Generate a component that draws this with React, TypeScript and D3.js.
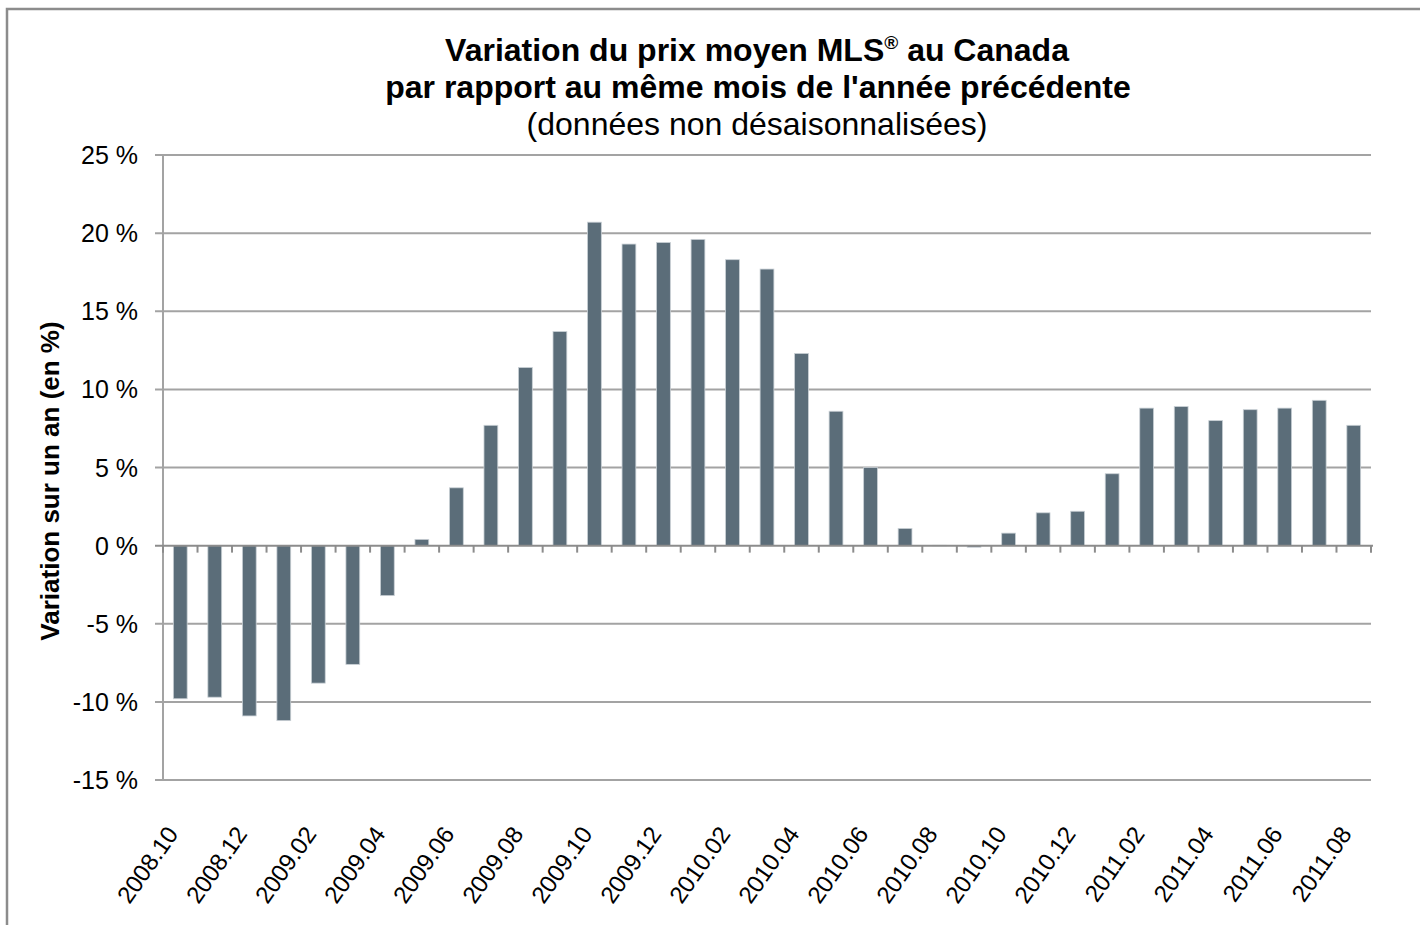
import React from 'react';
import * as d3 from 'd3';

const months: string[] = [
  '2008.10', '2008.11', '2008.12',
  '2009.01', '2009.02', '2009.03', '2009.04', '2009.05', '2009.06',
  '2009.07', '2009.08', '2009.09', '2009.10', '2009.11', '2009.12',
  '2010.01', '2010.02', '2010.03', '2010.04', '2010.05', '2010.06',
  '2010.07', '2010.08', '2010.09', '2010.10', '2010.11', '2010.12',
  '2011.01', '2011.02', '2011.03', '2011.04', '2011.05', '2011.06',
  '2011.07', '2011.08',
];

const variation: number[] = [
  -9.8, -9.7, -10.9,
  -11.2, -8.8, -7.6, -3.2, 0.4, 3.7,
  7.7, 11.4, 13.7, 20.7, 19.3, 19.4,
  19.6, 18.3, 17.7, 12.3, 8.6, 5.0,
  1.1, 0.02, -0.1, 0.8, 2.1, 2.2,
  4.6, 8.8, 8.9, 8.0, 8.7, 8.8,
  9.3, 7.7,
];

const yTicks: number[] = [-15, -10, -5, 0, 5, 10, 15, 20, 25];

const W = 1420;
const H = 925;
const left = 163;
const right = 1371;
const top = 155;
const bottom = 780;
const font = 'Liberation Sans, Arial, sans-serif';

const App: React.FC = () => {
  const x = d3.scaleBand<string>().domain(months).range([left, right]).paddingInner(0.6).paddingOuter(0.3);
  const y = d3.scaleLinear().domain([-15, 25]).range([bottom, top]);
  const bw = x.step();
  const boundaries = d3.range(months.length + 1).map(i => left + i * bw);
  const barW = x.bandwidth();
  const cx = (m: string) => (x(m) as number) + barW / 2;

  return (
    <svg width={W} height={H} style={{ position: 'absolute', left: 0, top: 0, background: '#fff' }}>
      <rect x={7} y={9} width={W + 20} height={H + 20} fill="#fff" stroke="#8c8c8c" strokeWidth={2.5} />

      <text x={757} y={61} textAnchor="middle" fontFamily={font} fontWeight="bold" fontSize={32} fill="#000">
        Variation du prix moyen MLS
        <tspan fontSize={19} dy={-12}>®</tspan>
        <tspan dy={12}> au Canada</tspan>
      </text>
      <text x={758} y={98} textAnchor="middle" fontFamily={font} fontWeight="bold" fontSize={32} fill="#000">
        par rapport au même mois de l'année précédente
      </text>
      <text x={757} y={135} textAnchor="middle" fontFamily={font} fontSize={32} fill="#000">
        (données non désaisonnalisées)
      </text>

      {/* gridlines */}
      {yTicks.filter(t => t !== 0).map(t => (
        <line key={t} x1={left - 8} x2={right} y1={y(t)} y2={y(t)} stroke="#a3a3a3" strokeWidth={2} />
      ))}
      {yTicks.map(t => (
        <text key={'l' + t} x={138} y={y(t) + 9} textAnchor="end" fontFamily={font} fontSize={25} fill="#000">
          {t} %
        </text>
      ))}
      <line x1={left} x2={left} y1={top} y2={bottom} stroke="#a3a3a3" strokeWidth={2} />

      {/* bars */}
      {months.map((m, i) => {
        const v = variation[i];
        const y1 = y(Math.max(0, v));
        const y2 = y(Math.min(0, v));
        return (
          <rect key={m} x={x(m)} y={y1} width={barW} height={Math.max(0.5, y2 - y1)}
            fill="#5b6d79" stroke="#c9d0d5" strokeWidth={0.8} />
        );
      })}

      {/* zero axis */}
      <line x1={left - 8} x2={right + 2} y1={y(0)} y2={y(0)} stroke="#8c8c8c" strokeWidth={2} />
      {boundaries.map((b, i) => (
        <line key={'t' + i} x1={b} x2={b} y1={y(0)} y2={y(0) + 7} stroke="#8c8c8c" strokeWidth={2} />
      ))}

      {/* x labels */}
      {months.filter((_, i) => i % 2 === 0).map(m => {
        const px = cx(m) - 1;
        const py = 834;
        return (
          <text key={'x' + m} x={px} y={py} textAnchor="end" fontFamily={font} fontSize={24} fill="#000"
            transform={`rotate(-55 ${px} ${py})`}>
            {m}
          </text>
        );
      })}

      <text x={59} y={481} transform="rotate(-90 59 481)" textAnchor="middle" fontFamily={font}
        fontWeight="bold" fontSize={26} fill="#000">
        Variation sur un an (en %)
      </text>
    </svg>
  );
};

export default App;
